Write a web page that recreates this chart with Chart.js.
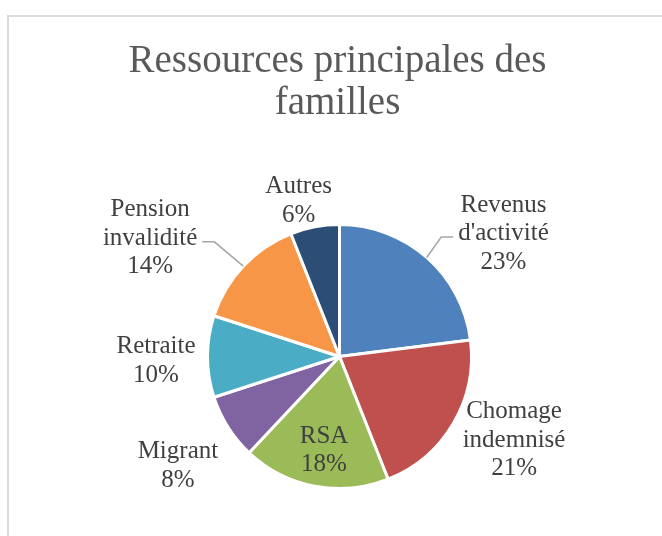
<!DOCTYPE html>
<html>
<head>
<meta charset="utf-8">
<script src="https://cdn.jsdelivr.net/npm/chart.js@4"></script>
<style>
  html, body { margin: 0; background: #fff; }
</style>
</head>
<body>
<canvas id="pieChart" width="662" height="536"></canvas>
<script>
const title = ["Ressources principales des", "familles"];
const labels = [["Revenus", "d'activité"], ["Chomage", "indemnisé"], ["RSA"], ["Migrant"], ["Retraite"], ["Pension", "invalidité"], ["Autres"]];
const shares = [23, 21, 18, 8, 10, 14, 6];
const colors = ["#4F81BD", "#C0504D", "#9BBB59", "#8064A2", "#4BACC6", "#F79646", "#2C4D75"];

// label placement: distance in radii from the centre, angle shift (deg) from the slice middle
const labelDist = [1.564, 1.459, 0.703, 1.468, 1.390, 1.701, 1.236];
const labelShift = [11.2, -5.6, -1.2, -1.1, -0.6, -10.7, -3.7];
const leader = [true, false, false, false, false, true, false];

const labelPlugin = {
  id: "pieLabels",
  beforeDraw(chart) {
    const ctx = chart.ctx;
    ctx.save();
    // chart frame
    ctx.strokeStyle = "#DADADA";
    ctx.lineWidth = 2;
    ctx.beginPath();
    ctx.moveTo(8, 536);
    ctx.lineTo(8, 16);
    ctx.lineTo(662, 16);
    ctx.stroke();
    // title
    ctx.fillStyle = "#595959";
    ctx.font = "39px 'Liberation Serif'";
    ctx.textAlign = "center";
    const mid = (chart.chartArea.left + chart.chartArea.right) / 2;
    ctx.fillText(title[0], mid - 2, 72);
    ctx.fillText(title[1], mid - 2, 114);
    ctx.restore();
  },
  afterDatasetsDraw(chart) {
    const ctx = chart.ctx;
    const arcs = chart.getDatasetMeta(0).data;
    ctx.save();
    ctx.font = "25px 'Liberation Serif'";
    ctx.textAlign = "center";
    ctx.fillStyle = "#404040";
    arcs.forEach((arc, i) => {
      const p = arc.getProps(["x", "y", "startAngle", "endAngle", "outerRadius"], true);
      const mid = (p.startAngle + p.endAngle) / 2;
      const a = mid + labelShift[i] * Math.PI / 180;
      const cx = p.x + Math.cos(a) * p.outerRadius * labelDist[i];
      const cy = p.y + Math.sin(a) * p.outerRadius * labelDist[i];
      const lines = labels[i].concat(shares[i] + "%");
      const n = lines.length;
      lines.forEach((t, j) => ctx.fillText(t, cx, cy + (j - (n - 1) / 2) * 28.5 + 9));

      if (leader[i]) {
        const w = Math.max(...lines.map(t => ctx.measureText(t).width));
        const side = Math.cos(a) > 0 ? -1 : 1;
        const ex = cx + side * (w / 2 + 5);
        const ey = cy + 6;
        ctx.strokeStyle = "#A6A6A6";
        ctx.lineWidth = 1.5;
        ctx.beginPath();
        ctx.moveTo(p.x + Math.cos(mid) * p.outerRadius, p.y + Math.sin(mid) * p.outerRadius);
        ctx.lineTo(ex + side * 12, ey);
        ctx.lineTo(ex, ey);
        ctx.stroke();
      }
    });
    ctx.restore();
  }
};

new Chart(document.getElementById("pieChart"), {
  type: "pie",
  data: {
    labels: labels.map(l => l.join(" ")),
    datasets: [{
      data: shares,
      backgroundColor: colors,
      borderColor: "#FFFFFF",
      borderWidth: 3
    }]
  },
  options: {
    responsive: false,
    animation: false,
    layout: { padding: { left: 206, right: 189, top: 223, bottom: 46 } },
    plugins: {
      legend: { display: false },
      tooltip: { enabled: false }
    }
  },
  plugins: [labelPlugin]
});
</script>
</body>
</html>
